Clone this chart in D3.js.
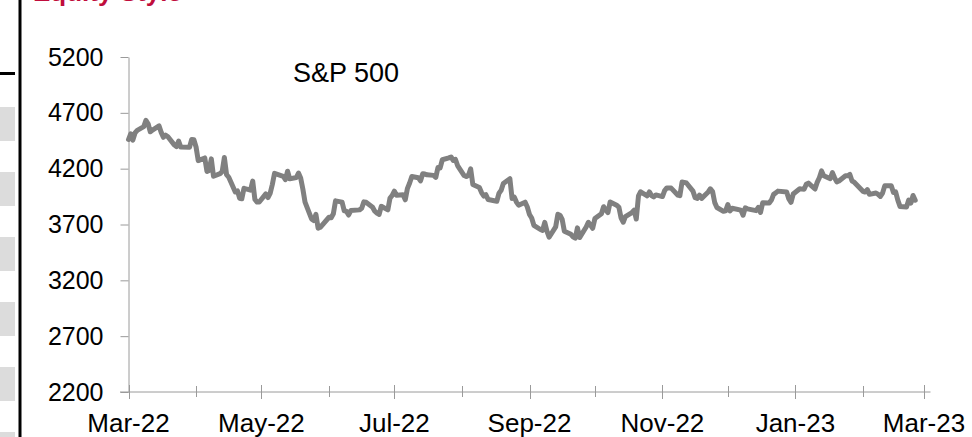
<!DOCTYPE html>
<html>
<head>
<meta charset="utf-8">
<script src="https://cdn.jsdelivr.net/npm/d3@7"></script>
<style>
    body { margin: 0; background: #fff; }
    svg { display: block; font-family: Arial, "Liberation Sans", sans-serif; }
</style>
</head>
<body>
<div id="chart"></div>
<script>
// S&P 500 daily closes (Mar-22 .. Mar-23)
const spx2022Q1 = [
    ["2022-03-21", 4461], ["2022-03-22", 4512], ["2022-03-23", 4456], ["2022-03-24", 4520],
    ["2022-03-25", 4543], ["2022-03-28", 4576], ["2022-03-29", 4632], ["2022-03-30", 4602],
    ["2022-03-31", 4530]
];
const spx2022Q2 = [
    ["2022-04-01", 4546], ["2022-04-04", 4583], ["2022-04-05", 4525], ["2022-04-06", 4481],
    ["2022-04-07", 4500], ["2022-04-08", 4488], ["2022-04-11", 4413], ["2022-04-12", 4397],
    ["2022-04-13", 4447], ["2022-04-14", 4393], ["2022-04-18", 4392], ["2022-04-19", 4462],
    ["2022-04-20", 4459], ["2022-04-21", 4394], ["2022-04-22", 4272], ["2022-04-25", 4296],
    ["2022-04-26", 4175], ["2022-04-27", 4184], ["2022-04-28", 4288], ["2022-04-29", 4132],
    ["2022-05-02", 4155], ["2022-05-03", 4175], ["2022-05-04", 4300], ["2022-05-05", 4147],
    ["2022-05-06", 4123], ["2022-05-09", 3991], ["2022-05-10", 4001], ["2022-05-11", 3935],
    ["2022-05-12", 3930], ["2022-05-13", 4024], ["2022-05-16", 4008], ["2022-05-17", 4089],
    ["2022-05-18", 3924], ["2022-05-19", 3901], ["2022-05-20", 3901], ["2022-05-23", 3974],
    ["2022-05-24", 3941], ["2022-05-25", 3979], ["2022-05-26", 4058], ["2022-05-27", 4158],
    ["2022-05-31", 4132], ["2022-06-01", 4101], ["2022-06-02", 4177], ["2022-06-03", 4109],
    ["2022-06-06", 4121], ["2022-06-07", 4161], ["2022-06-08", 4116], ["2022-06-09", 4018],
    ["2022-06-10", 3901], ["2022-06-13", 3750], ["2022-06-14", 3735], ["2022-06-15", 3790],
    ["2022-06-16", 3667], ["2022-06-17", 3675], ["2022-06-21", 3765], ["2022-06-22", 3760],
    ["2022-06-23", 3796], ["2022-06-24", 3912], ["2022-06-27", 3900], ["2022-06-28", 3822],
    ["2022-06-29", 3819], ["2022-06-30", 3785]
];
const spx2022Q3 = [
    ["2022-07-01", 3825], ["2022-07-05", 3831], ["2022-07-06", 3845], ["2022-07-07", 3903],
    ["2022-07-08", 3899], ["2022-07-11", 3854], ["2022-07-12", 3819], ["2022-07-13", 3802],
    ["2022-07-14", 3790], ["2022-07-15", 3863], ["2022-07-18", 3831], ["2022-07-19", 3937],
    ["2022-07-20", 3960], ["2022-07-21", 3999], ["2022-07-22", 3962], ["2022-07-25", 3967],
    ["2022-07-26", 3921], ["2022-07-27", 4024], ["2022-07-28", 4072], ["2022-07-29", 4130],
    ["2022-08-01", 4119], ["2022-08-02", 4091], ["2022-08-03", 4155], ["2022-08-04", 4152],
    ["2022-08-05", 4145], ["2022-08-08", 4140], ["2022-08-09", 4122], ["2022-08-10", 4210],
    ["2022-08-11", 4207], ["2022-08-12", 4280], ["2022-08-15", 4297], ["2022-08-16", 4305],
    ["2022-08-17", 4274], ["2022-08-18", 4284], ["2022-08-19", 4228], ["2022-08-22", 4138],
    ["2022-08-23", 4129], ["2022-08-24", 4141], ["2022-08-25", 4199], ["2022-08-26", 4058],
    ["2022-08-29", 4031], ["2022-08-30", 3986], ["2022-08-31", 3955], ["2022-09-01", 3967],
    ["2022-09-02", 3924], ["2022-09-06", 3908], ["2022-09-07", 3980], ["2022-09-08", 4006],
    ["2022-09-09", 4067], ["2022-09-12", 4110], ["2022-09-13", 3933], ["2022-09-14", 3946],
    ["2022-09-15", 3901], ["2022-09-16", 3873], ["2022-09-19", 3900], ["2022-09-20", 3856],
    ["2022-09-21", 3790], ["2022-09-22", 3758], ["2022-09-23", 3693], ["2022-09-26", 3655],
    ["2022-09-27", 3647], ["2022-09-28", 3719], ["2022-09-29", 3640], ["2022-09-30", 3586]
];
const spx2022Q4 = [
    ["2022-10-03", 3678], ["2022-10-04", 3791], ["2022-10-05", 3783], ["2022-10-06", 3745],
    ["2022-10-07", 3640], ["2022-10-10", 3612], ["2022-10-11", 3589], ["2022-10-12", 3577],
    ["2022-10-13", 3670], ["2022-10-14", 3583], ["2022-10-17", 3678], ["2022-10-18", 3720],
    ["2022-10-19", 3695], ["2022-10-20", 3666], ["2022-10-21", 3753], ["2022-10-24", 3797],
    ["2022-10-25", 3859], ["2022-10-26", 3831], ["2022-10-27", 3807], ["2022-10-28", 3901],
    ["2022-10-31", 3872], ["2022-11-01", 3856], ["2022-11-02", 3760], ["2022-11-03", 3720],
    ["2022-11-04", 3771], ["2022-11-07", 3807], ["2022-11-08", 3828], ["2022-11-09", 3749],
    ["2022-11-10", 3956], ["2022-11-11", 3993], ["2022-11-14", 3957], ["2022-11-15", 3992],
    ["2022-11-16", 3959], ["2022-11-17", 3947], ["2022-11-18", 3965], ["2022-11-21", 3950],
    ["2022-11-22", 4004], ["2022-11-23", 4027], ["2022-11-25", 4026], ["2022-11-28", 3964],
    ["2022-11-29", 3958], ["2022-11-30", 4080], ["2022-12-01", 4077], ["2022-12-02", 4072],
    ["2022-12-05", 3999], ["2022-12-06", 3941], ["2022-12-07", 3934], ["2022-12-08", 3964],
    ["2022-12-09", 3934], ["2022-12-12", 3991], ["2022-12-13", 4020], ["2022-12-14", 3995],
    ["2022-12-15", 3896], ["2022-12-16", 3852], ["2022-12-19", 3818], ["2022-12-20", 3822],
    ["2022-12-21", 3878], ["2022-12-22", 3822], ["2022-12-23", 3845], ["2022-12-27", 3829],
    ["2022-12-28", 3783], ["2022-12-29", 3849], ["2022-12-30", 3840]
];
const spx2023Q1 = [
    ["2023-01-03", 3824], ["2023-01-04", 3853], ["2023-01-05", 3808], ["2023-01-06", 3895],
    ["2023-01-09", 3892], ["2023-01-10", 3919], ["2023-01-11", 3970], ["2023-01-12", 3983],
    ["2023-01-13", 3999], ["2023-01-17", 3991], ["2023-01-18", 3929], ["2023-01-19", 3899],
    ["2023-01-20", 3973], ["2023-01-23", 4020], ["2023-01-24", 4017], ["2023-01-25", 4016],
    ["2023-01-26", 4060], ["2023-01-27", 4071], ["2023-01-30", 4018], ["2023-01-31", 4077],
    ["2023-02-01", 4119], ["2023-02-02", 4180], ["2023-02-03", 4136], ["2023-02-06", 4111],
    ["2023-02-07", 4164], ["2023-02-08", 4118], ["2023-02-09", 4082], ["2023-02-10", 4090],
    ["2023-02-13", 4137], ["2023-02-14", 4136], ["2023-02-15", 4148], ["2023-02-16", 4090],
    ["2023-02-17", 4079], ["2023-02-21", 3997], ["2023-02-22", 3991], ["2023-02-23", 4012],
    ["2023-02-24", 3970], ["2023-02-27", 3982], ["2023-02-28", 3970], ["2023-03-01", 3951],
    ["2023-03-02", 3981], ["2023-03-03", 4046], ["2023-03-06", 4048], ["2023-03-07", 3986],
    ["2023-03-08", 3992], ["2023-03-09", 3918], ["2023-03-10", 3862], ["2023-03-13", 3856],
    ["2023-03-14", 3919], ["2023-03-15", 3892], ["2023-03-16", 3960], ["2023-03-17", 3917]
];

const yTicks = [2200, 2700, 3200, 3700, 4200, 4700, 5200];
const seriesLabel = "S&P 500";
const titleText = "Equity Style";

const parse = d3.timeParse("%Y-%m-%d");
const data = [...spx2022Q1, ...spx2022Q2, ...spx2022Q3, ...spx2022Q4, ...spx2023Q1]
    .map(([d, v]) => ({ date: parse(d), value: v }));

const W = 972, H = 437;
const svg = d3.select("#chart").append("svg")
    .attr("width", W)
    .attr("height", H);

// page decoration on the left (slide frame)
const deco = svg.append("g").attr("class", "deco");
deco.selectAll("rect.block")
    .data(d3.range(6))
    .join("rect")
    .attr("class", "block")
    .attr("x", 0)
    .attr("y", (i) => 107 + i * 65)
    .attr("width", 15)
    .attr("height", 34)
    .attr("fill", "#dcdcdc");
deco.append("line")
    .attr("x1", 20).attr("x2", 20)
    .attr("y1", 0).attr("y2", H)
    .attr("stroke", "#000").attr("stroke-width", 3);
deco.append("line")
    .attr("x1", 0).attr("x2", 15)
    .attr("y1", 73.5).attr("y2", 73.5)
    .attr("stroke", "#000").attr("stroke-width", 3);

// title, cropped by the top edge in the source image
svg.append("text")
    .attr("x", 33)
    .attr("y", 0.5)
    .attr("fill", "#c00d3c")
    .attr("font-size", 26)
    .attr("font-weight", "bold")
    .text(titleText);

// scales
const start = data[0].date;
const x = d3.scaleTime()
    .domain([start, d3.timeDay.offset(d3.timeMonth.offset(start, 12), 3)])
    .range([128.5, 930.5]);
const y = d3.scaleLinear()
    .domain([2200, 5200])
    .range([392, 57]);

const axisColor = "#9a9a9a";

// y axis
const gy = svg.append("g")
    .attr("transform", "translate(128.5,0)")
    .call(d3.axisLeft(y)
        .tickValues(yTicks)
        .tickFormat(d3.format("d"))
        .tickSize(8)
        .tickSizeOuter(0)
        .tickPadding(17));
gy.select(".domain").attr("stroke", axisColor);
gy.selectAll(".tick line").attr("stroke", axisColor);
gy.selectAll(".tick text")
    .attr("font-size", 25)
    .attr("font-family", "Arial, 'Liberation Sans', sans-serif")
    .attr("fill", "#000");

// x axis: monthly minor ticks, every second month labelled
const months = d3.range(13).map((i) => d3.timeMonth.offset(start, i));
const majors = months.filter((d, i) => i % 2 === 0);
const minors = months.filter((d, i) => i % 2 === 1);

const gx = svg.append("g")
    .attr("transform", `translate(0,${y(2200)})`);
gx.append("line")
    .attr("x1", 120).attr("x2", x.range()[1])
    .attr("stroke", axisColor);
gx.selectAll("line.major")
    .data(majors)
    .join("line")
    .attr("class", "major")
    .attr("x1", (d) => Math.round(x(d)) + 0.5)
    .attr("x2", (d) => Math.round(x(d)) + 0.5)
    .attr("y1", -7).attr("y2", 7)
    .attr("stroke", axisColor);
gx.selectAll("line.minor")
    .data(minors)
    .join("line")
    .attr("class", "minor")
    .attr("x1", (d) => Math.round(x(d)) + 0.5)
    .attr("x2", (d) => Math.round(x(d)) + 0.5)
    .attr("y1", -6).attr("y2", 5)
    .attr("stroke", axisColor);
gx.selectAll("text")
    .data(majors)
    .join("text")
    .attr("x", (d) => x(d))
    .attr("y", 40)
    .attr("text-anchor", "middle")
    .attr("font-size", 26)
    .attr("fill", "#000")
    .text(d3.timeFormat("%b-%y"));

// series
const line = d3.line()
    .x((d) => x(d.date))
    .y((d) => y(d.value));
svg.append("path")
    .datum(data)
    .attr("fill", "none")
    .attr("stroke", "#808080")
    .attr("stroke-width", 5)
    .attr("stroke-linejoin", "round")
    .attr("stroke-linecap", "round")
    .attr("d", line);

svg.append("text")
    .attr("x", 293)
    .attr("y", 82)
    .attr("font-size", 27)
    .attr("fill", "#000")
    .text(seriesLabel);
</script>
</body>
</html>
